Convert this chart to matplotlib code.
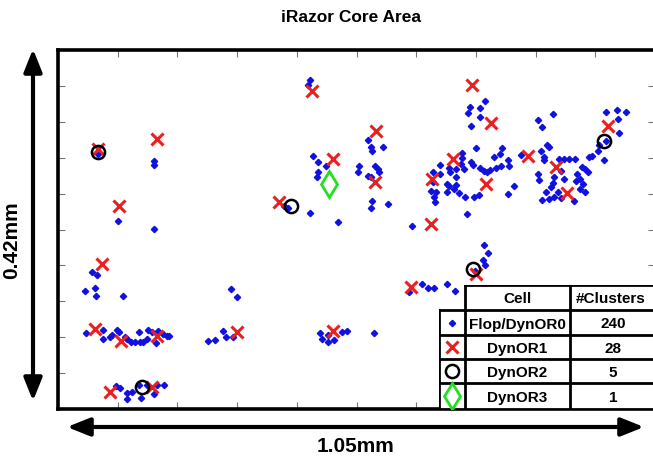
import matplotlib
matplotlib.use("Agg")
import matplotlib.pyplot as plt
from matplotlib.patches import FancyArrowPatch, Rectangle

plt.rcParams['font.family'] = ['Liberation Sans', 'DejaVu Sans']

# Cell placement across the core (micrometres from the lower-left corner)
flop_x = [70, 169, 169, 106, 169,
          60, 69, 48, 65, 67, 115, 305, 314,
          49, 79, 79, 92, 95, 104, 107, 118, 122, 129, 136, 143, 144, 150, 157, 159, 166, 173, 176, 185, 192, 196,
          264, 277, 291, 296, 308,
          102, 109, 122, 130, 122, 143, 146, 169, 174, 187, 157,
          444, 439,
          545, 550, 552, 571,
          449, 458, 471, 458, 455,
          529, 527, 557, 562, 564, 545, 550,
          397, 405,
          444, 492, 552, 550, 580,
          622,
          617, 640, 650, 661, 685, 698,
          460, 465, 474, 474, 486, 500, 509, 555,
          749, 756, 747, 751, 733,
          751, 724, 742, 721, 742, 726,
          735, 781, 710, 767, 777, 791, 814,
          710, 708, 726, 730, 714, 700, 687, 671, 659, 671, 689, 700, 742, 749, 754, 759, 770, 779, 793,
          659, 684, 687, 700, 696, 656, 664, 685, 705, 661, 663, 715, 731, 740, 791, 802, 719,
          844, 851, 870, 860, 863, 849, 855, 855,
          881, 890, 899, 909, 934, 939, 950, 960, 952, 964,
          964, 983, 999, 985, 987,
          885, 922, 927, 844, 846, 872, 890, 913, 932, 911, 918, 923, 870, 867, 858, 918, 927, 879, 872, 863, 851, 907, 885]
flop_y = [298, 290, 285, 220, 211,
          160, 157, 138, 142, 132, 132, 140, 131,
          89, 92, 82, 84, 87, 92, 90, 84, 82, 78, 78, 90, 78, 78, 82, 92, 90, 77, 91, 88, 85, 85,
          80, 81, 91, 84, 84,
          27, 25, 19, 20, 12, 28, 13, 18, 28, 28, 28,
          385, 379,
          315, 307, 302, 307,
          296, 289, 284, 277, 271,
          284, 277, 284, 281, 277, 273, 271,
          238, 235,
          229, 219, 243, 235, 240,
          214,
          137, 146, 142, 142, 146, 138,
          89, 82, 78, 87, 81, 90, 91, 89,
          192, 183, 174, 168, 161,
          360, 353, 352, 346, 342, 331,
          305, 305, 300, 295, 298, 291, 297,
          294, 287, 289, 286, 281, 281, 282, 286, 277, 275, 277, 271, 282, 279, 277, 280, 282, 284, 284,
          266, 263, 261, 262, 257, 255, 254, 254, 253, 248, 242, 248, 248, 250, 252, 261, 228,
          338, 330, 345, 309, 307, 302, 295, 291,
          293, 293, 293, 293, 295, 296, 302, 291, 309, 314,
          347, 350, 347, 339, 323,
          278, 283, 281, 275, 268, 271, 269, 275, 277, 267, 269, 263, 264, 260, 254, 257, 254, 254, 248, 246, 245, 243, 247]

dynor1_x = [70, 174, 107, 78, 65, 111, 174, 315, 92, 166, 446, 559, 483, 557,
            389, 483, 620, 656, 657, 694, 728, 761, 752, 826, 876, 895, 967, 735]
dynor1_y = [304, 316, 238, 170, 94, 80, 85, 90, 20, 26, 372, 325, 293, 266,
            242, 91, 143, 216, 269, 293, 379, 335, 263, 296, 283, 253, 331, 158]

dynor2_x = [70, 148, 409, 730, 960]
dynor2_y = [301, 26, 238, 164, 314]

dynor3_x = [476]
dynor3_y = [263]

cell_names = ['Flop/DynOR0', 'DynOR1', 'DynOR2', 'DynOR3']
cluster_counts = [240, 28, 5, 1]

core_width_um = 1050
core_height_um = 420

styles = [
    dict(marker='D', ms=3.2, color='#1010e0', mec='#1010e0', ls='none'),
    dict(marker='x', ms=8, mew=2.2, color='#e82020', ls='none'),
    dict(marker='o', ms=9.5, mfc='none', mec='black', mew=1.8, ls='none'),
    dict(marker='d', ms=13, mfc='none', mec='#20e020', mew=2.0, ls='none'),
]

W, H = 653, 464
fig = plt.figure(figsize=(W / 100, H / 100), dpi=100)
fig.patch.set_facecolor('white')

ax = fig.add_axes([58 / W, (H - 410) / H, 597 / W, 359 / H])
ax.plot(flop_x, flop_y, **styles[0], zorder=3)
ax.plot(dynor1_x, dynor1_y, **styles[1], zorder=4)
ax.plot(dynor2_x, dynor2_y, **styles[2], zorder=5)
ax.plot(dynor3_x, dynor3_y, **styles[3], zorder=5)

ax.set_xlim(0, core_width_um)
ax.set_ylim(0, core_height_um)
ax.set_xticks(range(0, core_width_um + 1, core_width_um // 10))
ax.set_yticks(range(0, core_height_um + 1, core_height_um // 10))
ax.tick_params(direction='in', length=5, width=0.8, color='#777777',
               top=True, right=True, labelleft=False, labelbottom=False)
for side, sp in ax.spines.items():
    sp.set_linewidth(2.6)
    sp.set_color('black')

fig.text(351 / W, 1 - 18 / H, 'iRazor Core Area', fontsize=12.5, fontweight='bold',
         ha='center', va='center')

# Legend table in the lower-right corner
tab = fig.add_axes([439 / W, (H - 410) / H, 217 / W, 124 / H])
tab.set_xlim(0, 217)
tab.set_ylim(124, 0)
tab.axis('off')
col_x = [0, 26, 131, 217]
row_y = [0, 25, 50, 74, 98, 124]
tab.add_patch(Rectangle((26, 0), 191, 25, facecolor='white', edgecolor='none', zorder=1))
tab.add_patch(Rectangle((0, 25), 217, 99, facecolor='white', edgecolor='none', zorder=1))
lw = 2.0
tab.plot([26, 217], [0, 0], color='black', lw=lw, zorder=3)
for y in row_y[1:]:
    tab.plot([0, 217], [y, y], color='black', lw=lw, zorder=3)
tab.plot([0, 0], [25, 124], color='black', lw=lw, zorder=3)
for x in col_x[1:]:
    tab.plot([x, x], [0, 124], color='black', lw=lw, zorder=3)

font = dict(fontsize=11, fontweight='bold', ha='center', va='center', zorder=4)
tab.text((col_x[1] + col_x[2]) / 2, 13, 'Cell', **font)
tab.text((col_x[2] + 652 - 439) / 2, 13, '#Clusters', **font)
for i, (name, count) in enumerate(zip(cell_names, cluster_counts)):
    yc = (row_y[i + 1] + row_y[i + 2]) / 2
    tab.plot([13], [yc], **styles[i], zorder=4)
    tab.text((col_x[1] + col_x[2]) / 2, yc + 1, name, **font)
    tab.text((col_x[2] + col_x[3]) / 2, yc + 1, str(count), **font)

# Dimension arrows
arrow_kw = dict(arrowstyle='<|-|>,head_length=0.55,head_width=0.22', mutation_scale=25,
                lw=3, color='black', transform=fig.transFigure, shrinkA=0, shrinkB=0)
fig.add_artist(FancyArrowPatch((67 / W, 1 - 428 / H), (644 / W, 1 - 428 / H), **arrow_kw))
fig.add_artist(FancyArrowPatch((33 / W, 1 - 50 / H), (33 / W, 1 - 402 / H), **arrow_kw))
fig.text(356 / W, 1 - 447 / H, '1.05mm', fontsize=15, fontweight='bold', ha='center', va='center')
fig.text(12 / W, 1 - 240 / H, '0.42mm', fontsize=15, fontweight='bold', ha='center', va='center',
         rotation=90)

fig.savefig('out.png', dpi=100)
